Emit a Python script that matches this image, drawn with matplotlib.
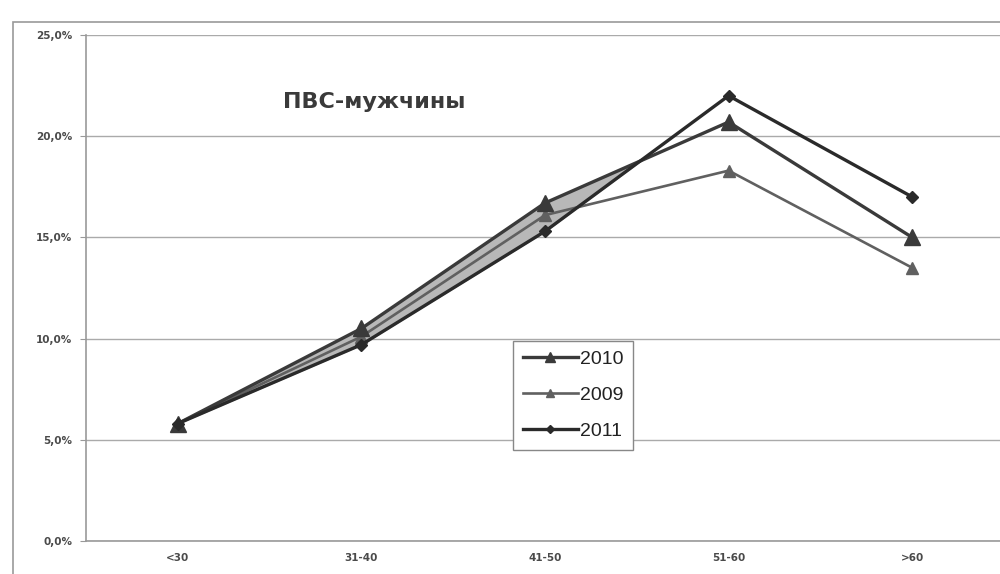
import matplotlib
matplotlib.use('Agg')
import matplotlib.pyplot as plt
from matplotlib.patches import Rectangle
import numpy as np

plt.rcParams['font.family'] = ['Liberation Sans', 'DejaVu Sans']

categories = ['<30', '31-40', '41-50', '51-60', '>60']
y2010 = [5.8, 10.5, 16.7, 20.7, 15.0]
y2009 = [5.8, 10.1, 16.1, 18.3, 13.5]
y2011 = [5.8, 9.7, 15.3, 22.0, 17.0]
yticks = [0, 5, 10, 15, 20, 25]
ytick_labels = ['0,0%', '5,0%', '10,0%', '15,0%', '20,0%', '25,0%']

fig = plt.figure(figsize=(10, 5.74), dpi=100)
ax = fig.add_axes([0.086, 0.0575, 0.918, 0.8815])

# outer chart frame
fig.patches.append(Rectangle((0.013, -0.05), 1.05, 1.012, transform=fig.transFigure,
                             fill=False, edgecolor='#999999', linewidth=1.2))

x = np.arange(len(categories))
a = np.array(y2010)
b = np.array(y2011)
ax.fill_between(x, a, b, where=a >= b, interpolate=True, color='#b8b8b8', zorder=2)

ax.plot(x, y2010, color='#3a3a3a', lw=2.4, marker='^', ms=12, label='2010', zorder=4)
ax.plot(x, y2009, color='#606060', lw=1.9, marker='^', ms=8, label='2009', zorder=3)
ax.plot(x, y2011, color='#2a2a2a', lw=2.4, marker='D', ms=6, label='2011', zorder=5)

ax.set_xlim(-0.5, 4.5)
ax.set_ylim(0, 25)
ax.set_yticks(yticks)
ax.set_yticklabels(ytick_labels, fontsize=7.5, fontweight='bold', color='#4a4a4a',
                   family='DejaVu Sans')
ax.set_xticks(x)
ax.set_xticklabels(categories, fontsize=7.5, fontweight='bold', color='#4a4a4a',
                   family='DejaVu Sans')
ax.tick_params(axis='y', length=4, color='#999999', pad=6)
ax.tick_params(axis='x', length=0, pad=9)
ax.grid(axis='y', color='#aaaaaa', lw=1.0)
ax.set_axisbelow(True)
for s in ['top', 'right']:
    ax.spines[s].set_visible(False)
ax.spines['left'].set_color('#999999')
ax.spines['bottom'].set_color('#999999')
ax.spines['left'].set_linewidth(1.2)
ax.spines['bottom'].set_linewidth(1.2)

ax.text(0.215, 0.855, 'ПВС-мужчины', transform=ax.transAxes, fontsize=16,
        fontweight='bold', color='#3a3a3a', family='DejaVu Sans')

leg = ax.legend(loc='upper left', bbox_to_anchor=(0.455, 0.415), fontsize=14,
                handlelength=2.8, labelspacing=0.95, borderpad=0.5, markerscale=0.65,
                fancybox=False, framealpha=1, edgecolor='#888888', handletextpad=0.1)
leg.get_frame().set_linewidth(1.0)
for t in leg.get_texts():
    t.set_color('#222222')

fig.savefig('out.png', dpi=100, facecolor='white')
